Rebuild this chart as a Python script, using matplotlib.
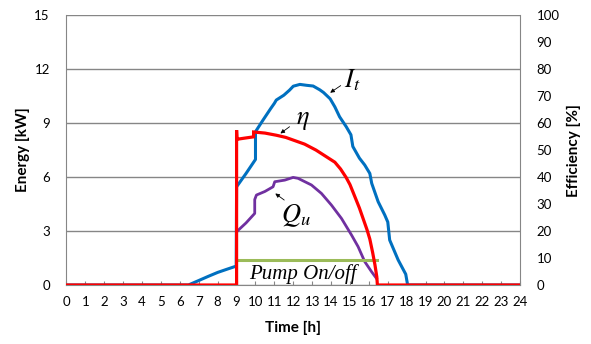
import matplotlib
matplotlib.use('Agg')
import matplotlib.pyplot as plt

plt.rcParams['font.family'] = ['Lato', 'DejaVu Sans']
plt.rcParams['mathtext.fontset'] = 'stix'

# solar radiation I_t [kW]
hours_it = [0, 6.45, 7.0, 7.5, 8.0, 8.5, 8.98, 9.0, 9.5, 10.0, 10.0, 10.4, 10.8, 11.0,
            11.1, 11.5, 11.8, 12.0, 12.35, 12.7, 13.05, 13.4, 13.6, 13.95, 14.2, 14.45,
            14.8, 15.05, 15.15, 15.5, 15.78, 16.05, 16.15, 16.49, 16.84, 17.0, 17.1,
            17.55, 17.95, 18.05, 24]
it_kw = [0, 0, 0.25, 0.48, 0.7, 0.88, 1.05, 5.46, 6.2, 6.98, 8.52, 9.17, 9.8, 10.1,
         10.28, 10.55, 10.83, 11.05, 11.15, 11.1, 11.06, 10.85, 10.7, 10.35, 9.9, 9.35,
         8.8, 8.35, 7.7, 7.05, 6.67, 6.2, 5.65, 4.63, 3.89, 3.5, 2.5,
         1.39, 0.6, 0, 0]

# useful heat Q_u [kW]
hours_qu = [9.0, 9.5, 9.96, 9.96, 10.05, 10.5, 10.93, 11.02, 11.55, 11.99, 12.25,
            12.96, 13.49, 14.02, 14.55, 15.08, 15.43, 15.78, 16.14, 16.4]
qu_kw = [2.96, 3.45, 3.98, 4.75, 5.0, 5.2, 5.46, 5.74, 5.83, 5.98, 5.93,
         5.56, 5.09, 4.44, 3.7, 2.78, 2.13, 1.3, 0.74, 0.37]

# efficiency [%]
hours_eta = [0, 9.0, 9.0, 9.02, 9.4, 9.9, 9.9, 10.5, 11.1, 11.6, 12.0, 12.6, 13.2,
             13.8, 14.2, 14.5, 14.8, 15.0, 15.3, 15.5, 15.7, 15.9, 16.05, 16.2, 16.32,
             16.42, 16.45, 24]
eta_pct = [0, 0, 57.4, 54.0, 54.4, 54.9, 56.7, 56.3, 55.5, 54.7, 53.7, 52.2, 50.0,
           47.3, 45.5, 43.0, 39.8, 37.2, 32.0, 28.5, 24.5, 20.5, 17.0, 12.0, 7.5,
           3.0, 0, 0]

# pump on/off signal [kW scale]
hours_pump = [9.0, 16.45]
pump_kw = [1.4, 1.4]

x_ticks = list(range(0, 25))
y_ticks = [0, 3, 6, 9, 12, 15]
y2_ticks = list(range(0, 101, 10))

fig = plt.figure(figsize=(5.91, 3.44), dpi=100)
ax = fig.add_axes([0.1125, 0.1715, 0.7675, 0.7845])
ax2 = ax.twinx()

grey = '#868686'
ax.set_xlim(0, 24)
ax.set_ylim(0, 15)
ax.set_xticks(x_ticks)
ax.set_yticks(y_ticks)
ax.yaxis.grid(True, color=grey, linewidth=1)
ax.set_axisbelow(True)
ax.spines['top'].set_visible(False)
for s in ['left', 'right', 'bottom']:
    ax.spines[s].set_color(grey)
ax.tick_params(axis='x', direction='in', length=3, color=grey, labelsize=9.5, pad=8)
ax.tick_params(axis='y', length=0, labelsize=9.5, pad=12)

ax.plot(hours_it, it_kw, color='#0070C0', lw=2.2, solid_joinstyle='round')
ax.plot(hours_qu, qu_kw, color='#7030A0', lw=2.0, solid_joinstyle='round')
ax.plot(hours_pump, pump_kw, color='#9BBB59', lw=2.2)

ax2.set_ylim(0, 100)
ax2.set_yticks(y2_ticks)
for s in ax2.spines.values():
    s.set_visible(False)
ax2.tick_params(axis='y', length=0, labelsize=9.5, pad=12)
ax2.plot(hours_eta, eta_pct, color='#FF0000', lw=2.3, solid_joinstyle='miter')

ax.set_xlabel('Time [h]', fontsize=11, fontweight='bold', labelpad=9)
ax.set_ylabel('Energy [kW]', fontsize=11, fontweight='bold', labelpad=3)
ax2.set_ylabel('Efficiency [%]', fontsize=11, fontweight='bold', labelpad=5)

# annotations
arr = dict(arrowstyle='-|>', color='black', lw=0.6, mutation_scale=6)
ax.text(15.1, 11.4, '$I_t$', fontsize=19, ha='center', va='center')
ax.annotate('', xy=(13.83, 10.6), xytext=(14.63, 11.17), arrowprops=arr)
ax.text(12.5, 9.2, r'$\eta$', fontsize=19, ha='center', va='center')
ax.annotate('', xy=(11.2, 8.33), xytext=(11.92, 8.89), arrowprops=arr)
ax.text(12.15, 3.85, '$Q_u$', fontsize=19, ha='center', va='center')
ax.annotate('', xy=(10.93, 5.18), xytext=(11.64, 4.63), arrowprops=arr)
ax.text(12.5, 0.6, 'Pump On/off', fontsize=15, family='Liberation Serif',
        style='italic', ha='center', va='center')

fig.savefig('out.png', dpi=100)
